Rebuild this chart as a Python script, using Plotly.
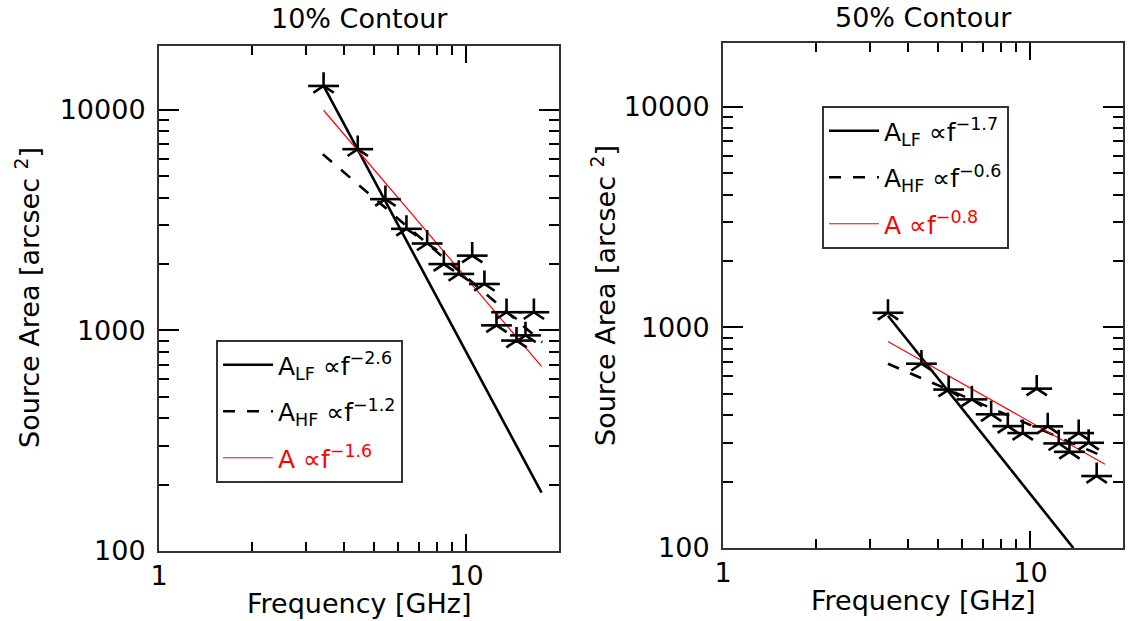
import plotly.graph_objects as go

# ---------------- data ----------------
freq_10 = [3.43, 4.43, 5.45, 6.38, 7.45, 8.44, 9.44, 10.44, 11.44, 12.52, 13.50, 14.55, 15.56, 16.57]
area_10 = [12850, 6640, 3940, 2890, 2480, 2000, 1805, 2185, 1625, 1055, 1210, 900, 950, 1210]
freq_50 = [3.44, 4.42, 5.42, 6.45, 7.45, 8.44, 9.44, 10.48, 11.38, 12.36, 13.39, 14.35, 15.46, 16.42]
area_50 = [1166, 685, 523, 472, 404, 357, 332, 528, 356, 298, 273, 332, 300, 212]

# fitted power-law lines (end points)
lf10_x, lf10_y = [3.43, 17.55], [12850, 184]
hf10_x, hf10_y = [3.41, 17.64], [6300, 885]
all10_x, all10_y = [3.43, 17.55], [9970, 687]
lf50_x, lf50_y = [3.44, 13.79], [1130, 100]
hf50_x, hf50_y = [3.44, 17.40], [685, 259]
all50_x, all50_y = [3.44, 17.48], [864, 240]

labels_10 = ["A<sub>LF</sub> \u221df<sup>\u22122.6</sup>",
             "A<sub>HF</sub> \u221df<sup>\u22121.2</sup>",
             "<span style='color:red'>A \u221df<sup>\u22121.6</sup></span>"]
labels_50 = ["A<sub>LF</sub> \u221df<sup>\u22121.7</sup>",
             "A<sub>HF</sub> \u221df<sup>\u22120.6</sup>",
             "<span style='color:red'>A \u221df<sup>\u22120.8</sup></span>"]

x_tickvals = [1, 10]
x_ticktext = ["1", "10"]
y_tickvals = [100, 1000, 10000]
y_ticktext = ["100", "1000", "10000"]

FONT = "DejaVu Sans"
AX = "#333333"

fig = go.Figure()

def add_panel(xa, ya, fx, ay, lf, hf, al, labels, legend):
    fig.add_trace(go.Scatter(x=lf[0], y=lf[1], mode="lines", xaxis=xa, yaxis=ya,
                             line=dict(color="black", width=2.6), name=labels[0],
                             legend=legend, legendgroup=legend + "a"))
    fig.add_trace(go.Scatter(x=hf[0], y=hf[1], mode="lines", xaxis=xa, yaxis=ya,
                             line=dict(color="black", width=2.6, dash="12px,12px"), name=labels[1],
                             legend=legend, legendgroup=legend + "b"))
    fig.add_trace(go.Scatter(x=al[0], y=al[1], mode="lines", xaxis=xa, yaxis=ya,
                             line=dict(color="red", width=1.2), name=labels[2],
                             legend=legend, legendgroup=legend + "c"))
    # asterisk markers (5-armed look: Y + horizontal bar)
    fig.add_trace(go.Scatter(x=fx, y=ay, mode="markers", xaxis=xa, yaxis=ya, showlegend=False,
                             marker=dict(symbol="y-up-open", size=17, color="black",
                                         line=dict(color="black", width=2.6))))
    fig.add_trace(go.Scatter(x=fx, y=ay, mode="markers", xaxis=xa, yaxis=ya, showlegend=False,
                             marker=dict(symbol="line-ew-open", size=22, color="black",
                                         line=dict(color="black", width=2.6))))

add_panel("x", "y", freq_10, area_10, (lf10_x, lf10_y), (hf10_x, hf10_y), (all10_x, all10_y),
          labels_10, "legend")
add_panel("x2", "y2", freq_50, area_50, (lf50_x, lf50_y), (hf50_x, hf50_y), (all50_x, all50_y),
          labels_50, "legend2")

def xaxis(dom, anchor):
    return dict(type="log", domain=dom, anchor=anchor, range=[0, 1.301],
                tickvals=x_tickvals, ticktext=x_ticktext, automargin=False,
                ticks="inside", ticklen=17, tickwidth=1.5, tickcolor="black",
                minor=dict(ticks="inside", ticklen=9, tickwidth=1.5, tickcolor="black", dtick="D1"),
                showline=True, linecolor=AX, linewidth=2, mirror="allticks", showgrid=False,
                zeroline=False, tickfont=dict(family=FONT, size=27, color="black"))

def yaxis(dom, anchor):
    return dict(type="log", domain=dom, range=[2, 4.29], tickvals=y_tickvals, ticktext=y_ticktext,
                anchor=anchor, automargin=False,
                ticks="inside", ticklen=20, tickwidth=1.5, tickcolor="black",
                minor=dict(ticks="inside", ticklen=10, tickwidth=1.5, tickcolor="black", dtick="D1"),
                showline=True, linecolor=AX, linewidth=2, mirror="allticks", showgrid=False,
                zeroline=False, ticklabelstandoff=6,
                tickfont=dict(family=FONT, size=27, color="black"))

W, H = 1135, 621
leg_common = dict(font=dict(family=FONT, size=25, color="black"), bgcolor="white",
                  bordercolor=AX, borderwidth=2, xanchor="left", yanchor="top",
                  tracegroupgap=11, itemwidth=50)

def ann(text, x, y, size, angle=0):
    return dict(text=text, x=x / W, y=1 - y / H, xref="paper", yref="paper", showarrow=False,
                textangle=angle, font=dict(family=FONT, size=size, color="black"),
                xanchor="center", yanchor="middle")

fig.update_layout(
    width=W, height=H, margin=dict(l=0, r=0, t=0, b=0),
    paper_bgcolor="white", plot_bgcolor="white",
    font=dict(family=FONT, color="black"),
    xaxis=xaxis([159 / W, 559 / W], "y"),
    yaxis=yaxis([70 / H, 575 / H], "x"),
    xaxis2=xaxis([723 / W, 1123 / W], "y2"),
    yaxis2=yaxis([73 / H, 578 / H], "x2"),
    legend=dict(leg_common, x=216 / W, y=1 - 340 / H),
    legend2=dict(leg_common, x=822 / W, y=1 - 106 / H),
    annotations=[
        ann("10% Contour", 359, 18, 27),
        ann("50% Contour", 923, 17, 27),
        ann("Frequency [GHz]", 359, 603, 27),
        ann("Frequency [GHz]", 923, 600, 27),
        ann("Source Area [arcsec <sup>2</sup>]", 27, 298, 27, -90),
        ann("Source Area [arcsec <sup>2</sup>]", 603, 296, 27, -90),
    ],
)

fig.write_html("out.html")
